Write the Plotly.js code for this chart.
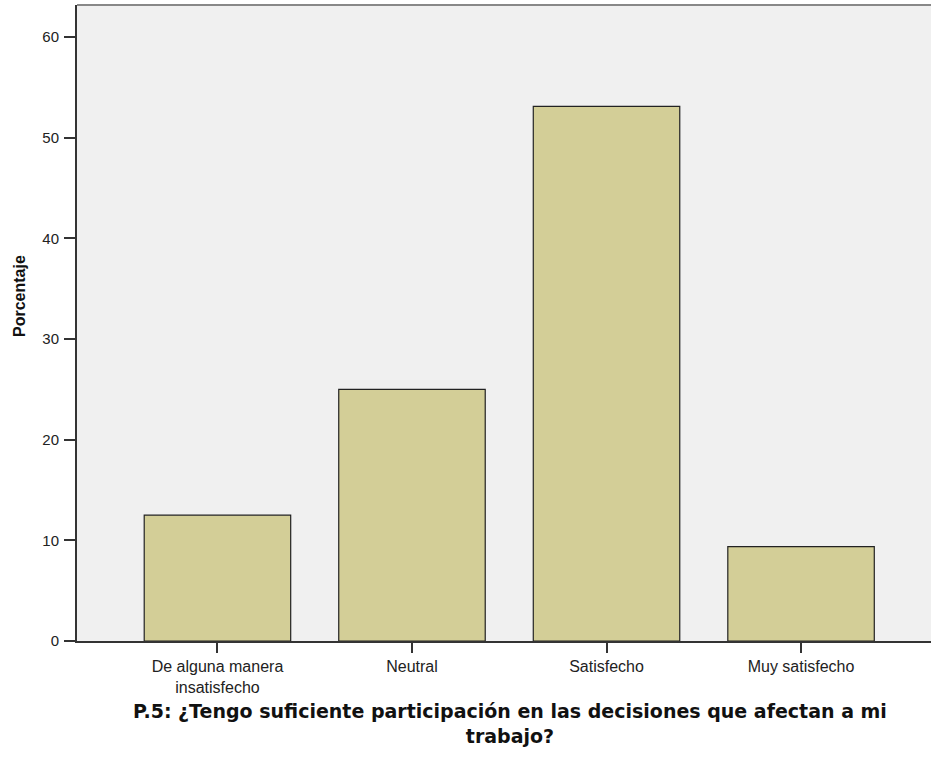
<!DOCTYPE html>
<html>
<head>
<meta charset="utf-8">
<script src="https://cdn.plot.ly/plotly-3.0.1.min.js"></script>
<style>html,body{margin:0;padding:0;background:#fff;}#chart{width:931px;height:760px;}</style>
</head>
<body>
<div id="chart"></div>
<script>
const categories = ["De alguna manera insatisfecho", "Neutral", "Satisfecho", "Muy satisfecho"];
const tickLabels = ["De alguna manera<br>insatisfecho", "Neutral", "Satisfecho", "Muy satisfecho"];
const percentages = [12.5, 25.0, 53.125, 9.375];
const yTicks = [0, 10, 20, 30, 40, 50, 60];
const xTitle = "P.5: ¿Tengo suficiente participación en las decisiones que afectan a mi<br>trabajo?";
const yTitle = "Porcentaje";

const trace = {
  type: "bar",
  x: categories,
  y: percentages,
  width: 0.753,
  marker: {color: "#d3ce97", line: {color: "#222", width: 1.2}},
  hoverinfo: "none"
};

const layout = {
  width: 931, height: 760,
  margin: {l: 77, r: 0, t: 5, b: 119},
  paper_bgcolor: "#ffffff",
  plot_bgcolor: "#f0f0f0",
  showlegend: false,
  font: {family: "Liberation Sans, Arial, sans-serif", color: "#222"},
  xaxis: {
    type: "category",
    range: [-0.722, 3.668],
    tickvals: categories,
    ticktext: tickLabels,
    ticks: "outside", ticklen: 10, tickwidth: 2, tickcolor: "#333",
    showline: true, linecolor: "#333", linewidth: 2,
    showgrid: false, zeroline: false,
    tickfont: {size: 16, color: "#222"}
  },
  yaxis: {
    range: [0, 63.2],
    tickvals: yTicks,
    ticks: "outside", ticklen: 11, tickwidth: 2, tickcolor: "#333",
    showline: true, linecolor: "#333", linewidth: 2,
    showgrid: false, zeroline: false,
    tickfont: {size: 15, color: "#222"},
    ticklabelstandoff: 2
  },
  shapes: [
    {type: "line", xref: "paper", yref: "paper", x0: 0, x1: 1, y0: 1, y1: 1,
     line: {color: "#888", width: 2}}
  ],
  annotations: [
    {text: "<b>" + yTitle + "</b>", xref: "paper", yref: "paper",
     x: (20 - 77) / 854, y: (641 - 296) / 636, xanchor: "center", yanchor: "middle",
     textangle: -90, showarrow: false, font: {size: 16, color: "#111", family: "Liberation Sans, Arial, sans-serif"}},
    {text: "<b>" + xTitle + "</b>", xref: "paper", yref: "paper",
     x: (510 - 77) / 854, y: (641 - 698) / 636, xanchor: "center", yanchor: "top",
     showarrow: false, font: {size: 19, color: "#111", family: "DejaVu Sans, sans-serif"}}
  ]
};

Plotly.newPlot("chart", [trace], layout, {staticPlot: true, displayModeBar: false});
</script>
</body>
</html>
